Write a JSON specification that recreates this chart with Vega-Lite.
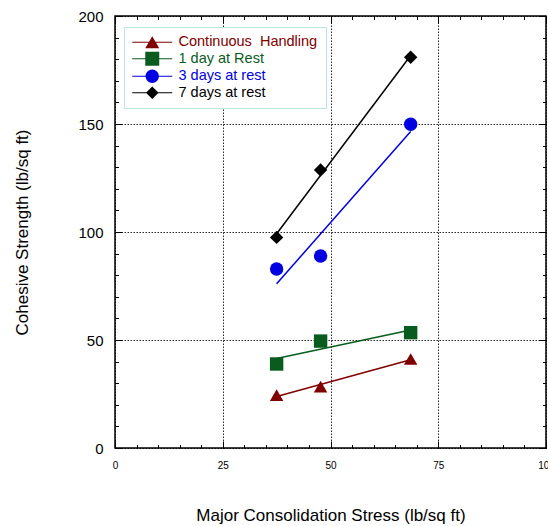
{
  "$schema": "https://vega.github.io/schema/vega-lite/v6.json",
  "width": 431,
  "height": 432,
  "autosize": {"type": "none"},
  "padding": {"left": 115, "top": 16, "right": 2, "bottom": 78},
  "background": "white",
  "config": {
    "font": "Liberation Sans",
    "view": {"stroke": "black", "strokeWidth": 1.5},
    "axis": {"labelColor": "black", "titleColor": "black", "titleFontWeight": "normal", "labelFlush": false, "labelOverlap": false}
  },
  "data": {
    "values": [
      {"series": "Continuous\u00a0 Handling", "x": 37.5, "y": 24.5},
      {"series": "Continuous\u00a0 Handling", "x": 47.7, "y": 28.4},
      {"series": "Continuous\u00a0 Handling", "x": 68.6, "y": 41.2},
      {"series": "1 day at Rest", "x": 37.5, "y": 38.9},
      {"series": "1 day at Rest", "x": 47.7, "y": 49.5},
      {"series": "1 day at Rest", "x": 68.6, "y": 53.4},
      {"series": "3 days at rest", "x": 37.5, "y": 82.9},
      {"series": "3 days at rest", "x": 47.7, "y": 88.9},
      {"series": "3 days at rest", "x": 68.6, "y": 149.9},
      {"series": "7 days at rest", "x": 37.5, "y": 97.5},
      {"series": "7 days at rest", "x": 47.7, "y": 128.7},
      {"series": "7 days at rest", "x": 68.6, "y": 180.9}
    ]
  },
  "resolve": {"axis": {"x": "independent", "y": "independent"}},
  "layer": [
    {
      "mark": {"type": "point", "opacity": 0},
      "encoding": {
        "x": {"field": "x", "type": "quantitative", "scale": {"domain": [0, 100], "nice": false, "zero": false},
          "axis": {"orient": "top", "values": [0,5,10,15,20,25,30,35,40,45,50,55,60,65,70,75,80,85,90,95,100], "labels": false, "grid": false, "domain": false, "ticks": true, "tickSize": -3.5, "tickColor": "black", "tickWidth": 1, "title": null}},
        "y": {"field": "y", "type": "quantitative", "scale": {"domain": [0, 200], "nice": false, "zero": false},
          "axis": {"orient": "right", "values": [0,10,20,30,40,50,60,70,80,90,100,110,120,130,140,150,160,170,180,190,200], "labels": false, "grid": false, "domain": false, "ticks": true, "tickSize": -3.5, "tickColor": "black", "tickWidth": 1, "title": null}}
      }
    },
    {
      "mark": {"type": "point", "opacity": 0},
      "encoding": {
        "x": {"field": "x", "type": "quantitative",
          "axis": {"orient": "bottom", "values": [0,5,10,15,20,25,30,35,40,45,50,55,60,65,70,75,80,85,90,95,100], "labels": false, "grid": false, "domain": false, "ticks": true, "tickSize": -3.5, "tickColor": "black", "tickWidth": 1, "title": null}},
        "y": {"field": "y", "type": "quantitative",
          "axis": {"orient": "left", "values": [0,10,20,30,40,50,60,70,80,90,100,110,120,130,140,150,160,170,180,190,200], "labels": false, "grid": false, "domain": false, "ticks": true, "tickSize": -3.5, "tickColor": "black", "tickWidth": 1, "title": null}}
      }
    },
    {
      "mark": {"type": "point", "opacity": 0},
      "encoding": {
        "x": {"field": "x", "type": "quantitative",
          "axis": {"orient": "top", "values": [0,25,50,75,100], "labels": false, "grid": false, "domain": false, "ticks": true, "tickSize": -7, "tickColor": "black", "tickWidth": 1, "title": null}},
        "y": {"field": "y", "type": "quantitative",
          "axis": {"orient": "right", "values": [0,50,100,150,200], "labels": false, "grid": false, "domain": false, "ticks": true, "tickSize": -7, "tickColor": "black", "tickWidth": 1, "title": null}}
      }
    },
    {
      "mark": {"type": "point", "opacity": 0},
      "encoding": {
        "x": {"field": "x", "type": "quantitative",
          "axis": {"orient": "bottom", "values": [0,25,50,75,100], "labels": false, "grid": false, "domain": false, "ticks": true, "tickSize": -7, "tickColor": "black", "tickWidth": 1, "title": null}},
        "y": {"field": "y", "type": "quantitative",
          "axis": {"orient": "left", "values": [0,50,100,150,200], "labels": false, "grid": false, "domain": false, "ticks": true, "tickSize": -7, "tickColor": "black", "tickWidth": 1, "title": null}}
      }
    },
    {
      "transform": [{"regression": "y", "on": "x", "groupby": ["series"]}],
      "mark": {"type": "line", "strokeWidth": 1.5},
      "encoding": {
        "x": {"field": "x", "type": "quantitative",
          "axis": {"orient": "bottom", "values": [0,25,50,75,100], "grid": true, "gridColor": "black", "gridDash": [1.5,1.5], "gridWidth": 1, "gridOpacity": 0.85, "ticks": false, "domain": false, "labelFontSize": 10, "labelPadding": 12, "title": "Major Consolidation Stress (lb/sq ft)", "titleFontSize": 17, "titlePadding": 37}},
        "y": {"field": "y", "type": "quantitative",
          "axis": {"orient": "left", "values": [0,50,100,150,200], "grid": true, "gridColor": "black", "gridDash": [1.5,1.5], "gridWidth": 1, "gridOpacity": 0.85, "ticks": false, "domain": false, "labelFontSize": 15, "labelPadding": 12, "title": "Cohesive Strength (lb/sq ft)", "titleFontSize": 17, "titlePadding": 46}},
        "color": {"field": "series", "type": "nominal"}
      }
    },
    {
      "mark": {"type": "point", "filled": true, "opacity": 1, "size": 180},
      "encoding": {
        "x": {"field": "x", "type": "quantitative", "axis": null},
        "y": {"field": "y", "type": "quantitative", "axis": null},
        "color": {"field": "series", "type": "nominal",
          "scale": {"domain": ["Continuous\u00a0 Handling", "1 day at Rest", "3 days at rest", "7 days at rest"], "range": ["#800000", "#0a5c1e", "#0000e0", "#000000"]},
          "legend": {
            "title": null, "orient": "none", "legendX": 9, "legendY": 11,
            "strokeColor": "#b8e4e4", "fillColor": "white", "padding": 8,
            "labelFontSize": 14.5, "labelLimit": 300,
            "labelColor": {"expr": "scale('color', datum.value)"},
            "symbolSize": 196, "symbolOffset": 13, "labelOffset": 19, "rowPadding": 1.5,
            "symbolStrokeWidth": 0,
            "symbolFillColor": {"expr": "scale('color', datum.value)"},
            "symbolType": {"expr": "datum.value == '7 days at rest' ? 'M-2.86,-0.08H2.86V0.08H-2.86ZM-0.9,0L0,-0.9L0.9,0L0,0.9Z' : datum.value == '1 day at Rest' ? 'M-2.86,-0.08H2.86V0.08H-2.86ZM-1,-1H1V1H-1Z' : datum.value == '3 days at rest' ? 'M-2.86,-0.08H2.86V0.08H-2.86ZM-0.95,0A0.95,0.95 0 1,1 0.95,0A0.95,0.95 0 1,1 -0.95,0Z' : 'M-2.86,-0.08H2.86V0.08H-2.86ZM0,-0.87L1,0.87L-1,0.87Z'"}
          }},
        "shape": {"field": "series", "type": "nominal",
          "scale": {"domain": ["7 days at rest", "3 days at rest", "1 day at Rest", "Continuous\u00a0 Handling"], "range": ["diamond", "circle", "square", "triangle-up"]},
          "legend": null}
      }
    }
  ]
}
